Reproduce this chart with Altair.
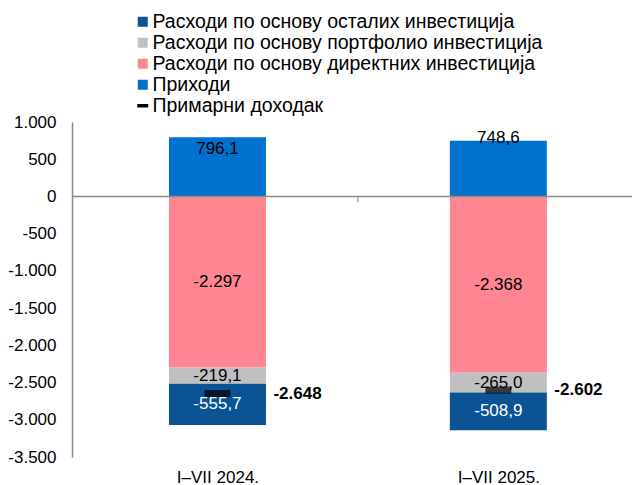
import json
import altair as alt
import pandas as pd

periods = ["I–VII 2024.", "I–VII 2025."]
series = [
    "Расходи по основу осталих инвестиција",
    "Расходи по основу портфолио инвестиција",
    "Расходи по основу директних инвестиција",
    "Приходи",
    "Примарни доходак",
]
other_inv = [-555.7, -508.9]
portfolio_inv = [-219.1, -265.0]
direct_inv = [-2297.0, -2368.0]
income = [796.1, 748.6]
primary_income = [-2648.0, -2602.0]
y_ticks = [1000, 500, 0, -500, -1000, -1500, -2000, -2500, -3000, -3500]
colors = ["#0A5394", "#C0C0C0", "#FF8592", "#0071CE", "#000000"]


def fmt(v, d):
    s = f"{v:,.{d}f}"
    return s.replace(",", "#").replace(".", ",").replace("#", ".")


rows = []
for i in range(len(periods)):
    rows.append(dict(idx=i, series=series[3], value=income[i], order=0, label=fmt(income[i], 1), tc="black"))
    rows.append(dict(idx=i, series=series[2], value=direct_inv[i], order=1, label=fmt(direct_inv[i], 0), tc="black"))
    rows.append(dict(idx=i, series=series[1], value=portfolio_inv[i], order=2, label=fmt(portfolio_inv[i], 1), tc="black"))
    rows.append(dict(idx=i, series=series[0], value=other_inv[i], order=3, label=fmt(other_inv[i], 1), tc="white"))
df = pd.DataFrame(rows)

prim = pd.DataFrame({"idx": list(range(len(periods))), "value": primary_income,
                     "label": [fmt(v, 0) for v in primary_income]})
leg = pd.DataFrame({"series": series})
zero = pd.DataFrame({"z": [0.0], "mid": [0.5]})

FONT = "Liberation Sans"
FS = 17
GRAY = "#8C8C8C"

color_scale = alt.Scale(domain=series, range=colors)
shape_scale = alt.Scale(domain=series, range=["square", "square", "square", "square",
                                               "M-1.1,-0.35H1.1V0.35H-1.1Z"])

xscale = alt.Scale(domain=[-0.5, 1.458], nice=False, zero=False)
yscale = alt.Scale(domain=[-3500, 1000], nice=False)

legend_params = dict(orient="none", legendX=61, legendY=-110, title=None, labelFontSize=19.5,
                     labelFont=FONT, labelColor="black", symbolSize=100, symbolOpacity=1,
                     symbolStrokeWidth=0, rowPadding=0, labelOffset=0, padding=0, labelLimit=0)

x_axis = alt.Axis(values=[0, 1], labelExpr=json.dumps(periods, ensure_ascii=False) + "[datum.value]",
                  domain=False, ticks=False, grid=False, title=None, labelOverlap=False,
                  labelPadding=12, labelFontSize=FS, labelColor="black", labelFont=FONT)
y_axis = alt.Axis(values=y_ticks,
                  labelExpr="replace(replace(format(datum.value, ',.0f'), ',', '.'), '\u2212', '-')",
                  domain=True, domainColor=GRAY, domainWidth=1.5, ticks=False, grid=False,
                  title=None, labelOverlap=False, labelPadding=16, labelFontSize=FS,
                  labelColor="black", labelFont=FONT, labelBound=False, labelFlush=False)


def X(f):
    return alt.X(f, scale=xscale, axis=x_axis, title=None)


def Y(f):
    return alt.Y(f, scale=yscale, axis=y_axis, title=None)


base = alt.Chart(df).transform_stack(
    stack="value", groupby=["idx"], as_=["v0", "v1"], sort=[alt.SortField("order")]
).transform_calculate(mid="(datum.v0 + datum.v1) / 2")

bars = base.mark_bar(size=97).encode(
    x=X("idx:Q"),
    y=Y("v0:Q"),
    y2="v1:Q",
    color=alt.Color("series:N", scale=color_scale, legend=alt.Legend(**legend_params)),
)

neg_text = base.transform_filter("datum.value < 0").mark_text(fontSize=FS, baseline="middle").encode(
    x=X("idx:Q"), y=Y("mid:Q"), text="label:N",
    color=alt.Color("tc:N", scale=None),
)

inc1 = base.transform_filter("datum.value > 0 && datum.idx == 0").mark_text(
    fontSize=FS, baseline="middle", dy=12, color="black").encode(x=X("idx:Q"), y=Y("v1:Q"), text="label:N")
inc2 = base.transform_filter("datum.value > 0 && datum.idx == 1").mark_text(
    fontSize=FS, baseline="middle", dy=-3, color="black").encode(x=X("idx:Q"), y=Y("v1:Q"), text="label:N")

zero_rule = alt.Chart(zero).mark_rule(color=GRAY, strokeWidth=1.5).encode(y=Y("z:Q"))
mid_tick = alt.Chart(zero).mark_tick(orient="vertical", size=6, thickness=1.5, yOffset=3, color=GRAY).encode(
    x=X("mid:Q"), y=Y("z:Q"))

marker = alt.Chart(prim).mark_tick(orient="horizontal", size=26, thickness=7, color="black").encode(
    x=X("idx:Q"), y=Y("value:Q"))
marker_text = alt.Chart(prim).mark_text(align="left", dx=56, fontWeight="bold", fontSize=FS,
                                        baseline="middle", color="black").encode(
    x=X("idx:Q"), y=Y("value:Q"), text="label:N")

legend_layer = alt.Chart(leg).mark_point(filled=True, opacity=0).encode(
    x=alt.value(0), y=alt.value(0),
    color=alt.Color("series:N", scale=color_scale, legend=alt.Legend(**legend_params)),
    shape=alt.Shape("series:N", scale=shape_scale, legend=alt.Legend(**legend_params)),
)

chart = alt.layer(bars, zero_rule, mid_tick, neg_text, inc1, inc2, marker, marker_text, legend_layer).properties(
    width=560, height=335, autosize="none",
    padding={"left": 64, "top": 114, "right": 0, "bottom": 28},
).configure(
    font=FONT,
    locale={"number": {"decimal": ",", "thousands": ".", "grouping": [3],
                       "currency": ["", ""], "minus": "-"}},
).configure_view(stroke=None).configure_axis(
    labelOverlap=False, labelFontSize=FS, labelColor="black"
).configure_legend(labelFontSize=19.5, labelLimit=0)

chart.save("out.html", embed_options={"renderer": "svg", "actions": False})
